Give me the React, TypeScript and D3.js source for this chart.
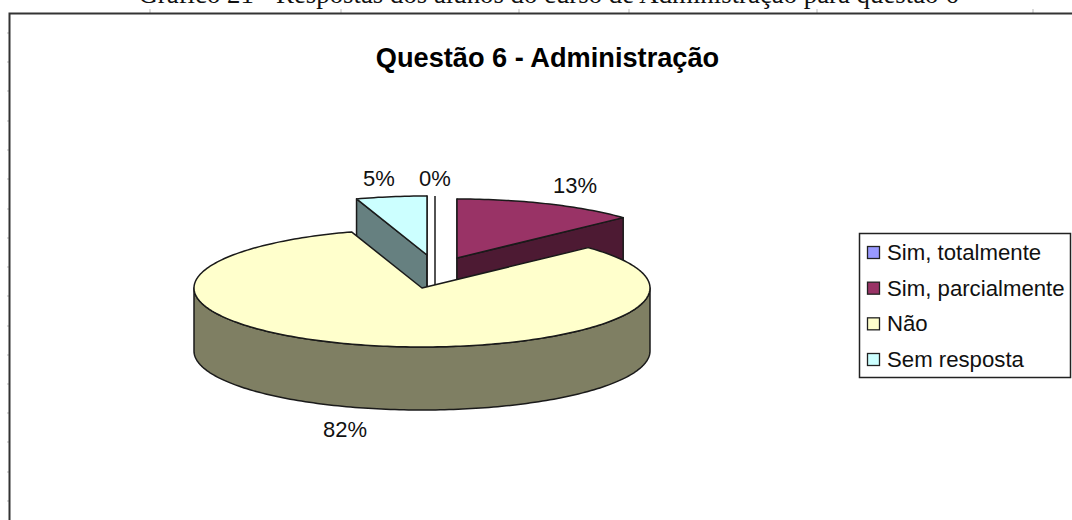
import React from "react";
import * as d3 from "d3";

const caption = "Gráfico 21 - Respostas dos alunos do curso de Administração para questão 6";
const chartTitle = "Questão 6 - Administração";
const categories = ["Sim, totalmente", "Sim, parcialmente", "Não", "Sem resposta"];
const values = [0, 13, 82, 5];
const labels = ["0%", "13%", "82%", "5%"];
const topColors = ["#9999ff", "#993366", "#ffffcc", "#ccffff"];
const sideColors = ["#4d4d80", "#4d1a33", "#7f7f63", "#668080"];
const sliceCenters: [number, number][] = [[435, 255], [457, 258], [422, 288], [427, 255]];
const labelPositions: [number, number][] = [[435, 186], [575, 193], [345, 437], [379, 186]];
const borderTicksTop = [150, 341, 519, 629, 817, 1033];
const borderTicksLeft = [33, 62, 91, 121, 150, 179, 209, 238, 267, 296, 326, 355, 384, 413, 442, 472, 501];

const RX = 228;
const RY = 59;
const DEPTH = 63;
const INK = "#1a1a1a";

const arcs = d3.pie<number>().sort(null).startAngle(0).endAngle(2 * Math.PI)(values);
const line = d3.line();

function point(a: number, c: [number, number], z = 0): [number, number] {
  return [c[0] + RX * Math.sin(a), c[1] - RY * Math.cos(a) + z];
}
function rim(a0: number, a1: number, c: [number, number], z = 0): [number, number][] {
  const n = Math.max(2, Math.ceil(Math.abs(a1 - a0) / 0.02));
  return d3.range(n + 1).map((i) => point(a0 + ((a1 - a0) * i) / n, c, z));
}
function topPath(i: number) {
  const a = arcs[i], c = sliceCenters[i];
  return line([c, ...rim(a.startAngle, a.endAngle, c)])! + "Z";
}
function wallPath(i: number) {
  const a = arcs[i], c = sliceCenters[i];
  const s = Math.max(a.startAngle, Math.PI / 2), e = Math.min(a.endAngle, 1.5 * Math.PI);
  if (e <= s) return null;
  return line([...rim(s, e, c), ...rim(e, s, c, DEPTH)])! + "Z";
}
function cutFace(i: number, angle: number) {
  const c = sliceCenters[i], p = point(angle, c);
  return line([c, p, [p[0], p[1] + DEPTH], [c[0], c[1] + DEPTH]])! + "Z";
}

const legendY = d3.scalePoint<string>().domain(categories).range([253, 360]);
const drawOrder = [1, 3, 0, 2];

export default function App() {
  return (
    <svg width={1072} height={520} style={{ position: "absolute", left: 0, top: 0, background: "#fff" }}>
      <text x={548.5} y={3} textAnchor="middle" fontFamily="'Liberation Serif'" fontSize={26.8} fill="#111">{caption}</text>

      {borderTicksTop.map((x) => <line key={x} x1={x} x2={x} y1={9} y2={13} stroke="#bbb" />)}
      {borderTicksLeft.map((y) => <line key={y} x1={7} x2={9} y1={y} y2={y} stroke="#bbb" />)}
      <path d="M9.5,520V13.5H1072" fill="none" stroke="#333" strokeWidth={2} />

      <text x={547.5} y={67} textAnchor="middle" fontFamily="'Liberation Sans'" fontWeight={700} fontSize={27.2} fill="#000">{chartTitle}</text>

      {drawOrder.map((i) => {
        const a = arcs[i];
        const wall = wallPath(i);
        if (values[i] === 0) {
          const c = sliceCenters[i], p = point(a.startAngle, c);
          return <line key={i} x1={p[0]} x2={p[0]} y1={p[1]} y2={c[1] + DEPTH} stroke={INK} strokeWidth={1.5} />;
        }
        return (
          <g key={i} stroke={INK} strokeWidth={1.5} strokeLinejoin="round">
            {i === 2 ? null : <path d={cutFace(i, a.startAngle)} fill={sideColors[i]} />}
            {i === 2 ? null : <path d={cutFace(i, a.endAngle)} fill={sideColors[i]} />}
            {wall ? <path d={wall} fill={sideColors[i]} /> : null}
            <path d={topPath(i)} fill={topColors[i]} />
          </g>
        );
      })}

      {labels.map((t, i) => (
        <text key={t} x={labelPositions[i][0]} y={labelPositions[i][1]} textAnchor="middle" fontFamily="'Liberation Sans'" fontSize={22} fill="#111">{t}</text>
      ))}

      <rect x={859.5} y={233.5} width={211} height={144} fill="#fff" stroke="#222" strokeWidth={1.5} />
      {categories.map((c, i) => {
        const y = legendY(c)!;
        return (
          <g key={c}>
            <rect x={867.5} y={y - 6.5} width={12} height={12} fill={topColors[i]} stroke="#222" strokeWidth={1.3} />
            <text x={887} y={y + 7} fontFamily="'Liberation Sans'" fontSize={22.2} fill="#111">{c}</text>
          </g>
        );
      })}
    </svg>
  );
}
